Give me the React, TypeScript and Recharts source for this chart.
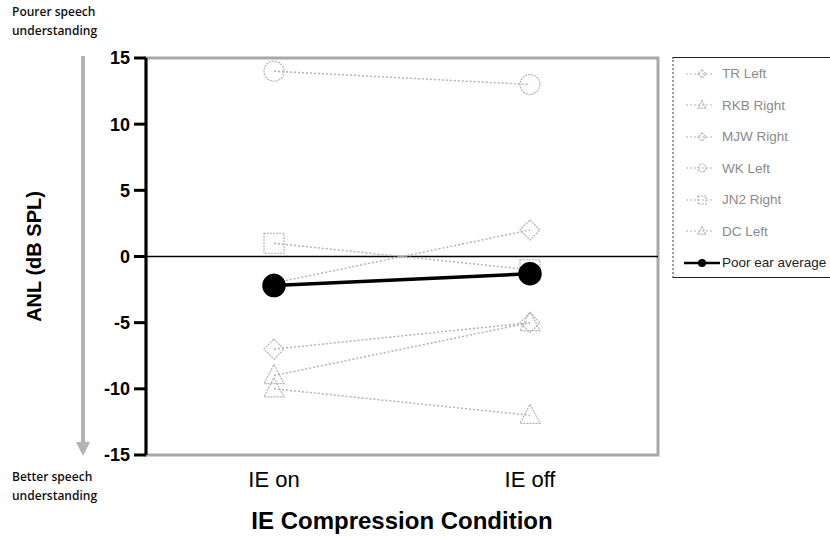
import React from "react";
import {
  LineChart,
  Line,
  XAxis,
  YAxis,
  ReferenceLine,
  ReferenceArea,
  Legend,
} from "recharts";

const conditions = ["IE on", "IE off"];
const trLeft = [-7, -5];
const rkbRight = [-9, -5];
const mjwRight = [-2, 2];
const wkLeft = [14, 13];
const jn2Right = [1, -1];
const dcLeft = [-10, -12];
const poorEarAverage = [-2.2, -1.3];
const yTicks = [-15, -10, -5, 0, 5, 10, 15];

const seriesList = [
  { key: "tr", name: "TR Left", values: trLeft, shape: "diamond" },
  { key: "rkb", name: "RKB Right", values: rkbRight, shape: "triangle" },
  { key: "mjw", name: "MJW Right", values: mjwRight, shape: "diamond" },
  { key: "wk", name: "WK Left", values: wkLeft, shape: "circle" },
  { key: "jn2", name: "JN2 Right", values: jn2Right, shape: "square" },
  { key: "dc", name: "DC Left", values: dcLeft, shape: "triangle" },
];

const data = conditions.map((c, i) => {
  const row: Record<string, any> = { condition: c, avg: poorEarAverage[i] };
  seriesList.forEach((s) => (row[s.key] = s.values[i]));
  return row;
});

const GRAY = "#b3b3b3";

function Marker({ shape, cx, cy, r, stroke, fill }: any) {
  if (shape === "circle") return <circle cx={cx} cy={cy} r={r} stroke={stroke} fill={fill} strokeWidth={1.2} strokeDasharray="2 1" />;
  if (shape === "square")
    return <rect x={cx - r} y={cy - r} width={2 * r} height={2 * r} stroke={stroke} fill={fill} strokeWidth={1.2} strokeDasharray="2 1" />;
  if (shape === "diamond")
    return (
      <polygon
        points={`${cx},${cy - r} ${cx + r},${cy} ${cx},${cy + r} ${cx - r},${cy}`}
        stroke={stroke} fill={fill} strokeWidth={1.2} strokeDasharray="2 1"
      />
    );
  return (
    <polygon
      points={`${cx},${cy - r * 1.1} ${cx + r},${cy + r * 0.8} ${cx - r},${cy + r * 0.8}`}
      stroke={stroke} fill={fill} strokeWidth={1.2} strokeDasharray="2 1"
    />
  );
}

const makeDot = (shape: string) => (props: any) => {
  const { cx, cy, index } = props;
  if (cx == null || cy == null) return <g key={index} />;
  return <Marker key={index} shape={shape} cx={cx} cy={cy} r={10} stroke={GRAY} fill="none" />;
};

const rowStyle: React.CSSProperties = { display: "flex", alignItems: "center", height: 31.5, whiteSpace: "nowrap" };

function LegendBox() {
  return (
    <div
      style={{
        borderTop: "1px solid #222",
        borderBottom: "1px solid #222",
        borderLeft: "2px dotted #999",
        height: 221,
        boxSizing: "border-box",
        fontFamily: "Arial, 'Liberation Sans', sans-serif",
        fontSize: 13.5,
        background: "#fff",
        overflow: "hidden",
      }}
    >
      {seriesList.map((s) => (
        <div key={s.key} style={rowStyle}>
          <svg width={46} height={14} style={{ flexShrink: 0 }}>
            <line x1={12} x2={38} y1={7} y2={7} stroke={GRAY} strokeDasharray="2 2" />
            <Marker shape={s.shape} cx={28} cy={7} r={4} stroke={GRAY} fill="none" />
          </svg>
          <span style={{ color: "#8a8a8a", marginLeft: 2 }}>{s.name}</span>
        </div>
      ))}
      <div style={rowStyle}>
        <svg width={46} height={14} style={{ flexShrink: 0 }}>
          <line x1={10} x2={46} y1={7} y2={7} stroke="#000" strokeWidth={2.5} />
          <circle cx={28} cy={7} r={4} fill="#000" />
        </svg>
        <span style={{ color: "#222", marginLeft: 2 }}>Poor ear average</span>
      </div>
    </div>
  );
}

const sideText: React.CSSProperties = {
  position: "absolute",
  left: 12,
  fontFamily: "'Open Sans', sans-serif",
  fontWeight: 600,
  fontSize: 12,
  lineHeight: "19px",
  color: "#111",
};

export default function App() {
  return (
    <div style={{ position: "absolute", left: 0, top: 0, width: 830, height: 537, overflow: "hidden", background: "#fff" }}>
      <div style={{ ...sideText, top: 2 }}>
        Pourer speech
        <br />
        understanding
      </div>
      <div style={{ ...sideText, top: 467 }}>
        Better speech
        <br />
        understanding
      </div>
      <svg width={830} height={537} style={{ position: "absolute", left: 0, top: 0 }}>
        <line x1={83} x2={83} y1={56} y2={444} stroke={GRAY} strokeWidth={4} />
        <polygon points="76,442 90,442 83,456" fill={GRAY} />
      </svg>
      <div style={{ position: "absolute", left: 0, top: 0 }}>
        <LineChart
          width={830}
          height={537}
          data={data}
          margin={{ top: 58, right: 172, bottom: 50, left: 86 }}
          style={{ fontFamily: "Arial, 'Liberation Sans', sans-serif" }}
        >
          <ReferenceArea y1={-15} y2={15} fill="none" stroke="#a8a8a8" strokeWidth={3} ifOverflow="visible" />
          <XAxis
            dataKey="condition"
            scale="band"
            axisLine={false}
            tickLine={false}
            height={32}
            tick={{ fill: "#000", fontSize: 22 }}
            tickMargin={10}
            label={{
              value: "IE Compression Condition",
              position: "insideBottom",
              offset: -42,
              style: { fill: "#000", fontSize: 24, fontWeight: 700 },
            }}
          />
          <YAxis
            domain={[-15, 15]}
            ticks={yTicks}
            width={60}
            axisLine={{ stroke: "#000", strokeWidth: 3 }}
            tickLine={{ stroke: "#000", strokeWidth: 3 }}
            tickSize={12}
            tickMargin={4}
            tick={{ fill: "#000", fontSize: 18, fontWeight: 700 }}
            label={{
              value: "ANL (dB SPL)",
              angle: -90,
              position: "insideLeft",
              offset: -52,
              style: { fill: "#000", fontSize: 20, fontWeight: 700, textAnchor: "middle" },
            }}
          />
          <ReferenceLine y={0} stroke="#000" strokeWidth={1.5} />
          {seriesList.map((s) => (
            <Line
              key={s.key}
              dataKey={s.key}
              name={s.name}
              stroke={GRAY}
              strokeWidth={1.5}
              strokeDasharray="2 2"
              dot={makeDot(s.shape)}
              activeDot={false}
              isAnimationActive={false}
            />
          ))}
          <Line
            dataKey="avg"
            name="Poor ear average"
            stroke="#000"
            strokeWidth={3.5}
            dot={{ r: 10, fill: "#000", stroke: "#000" }}
            activeDot={false}
            isAnimationActive={false}
          />
          <Legend
            layout="vertical"
            align="center"
            verticalAlign="middle"
            wrapperStyle={{ left: 672, top: 57, width: 158 }}
            content={() => <LegendBox />}
          />
        </LineChart>
      </div>
    </div>
  );
}
